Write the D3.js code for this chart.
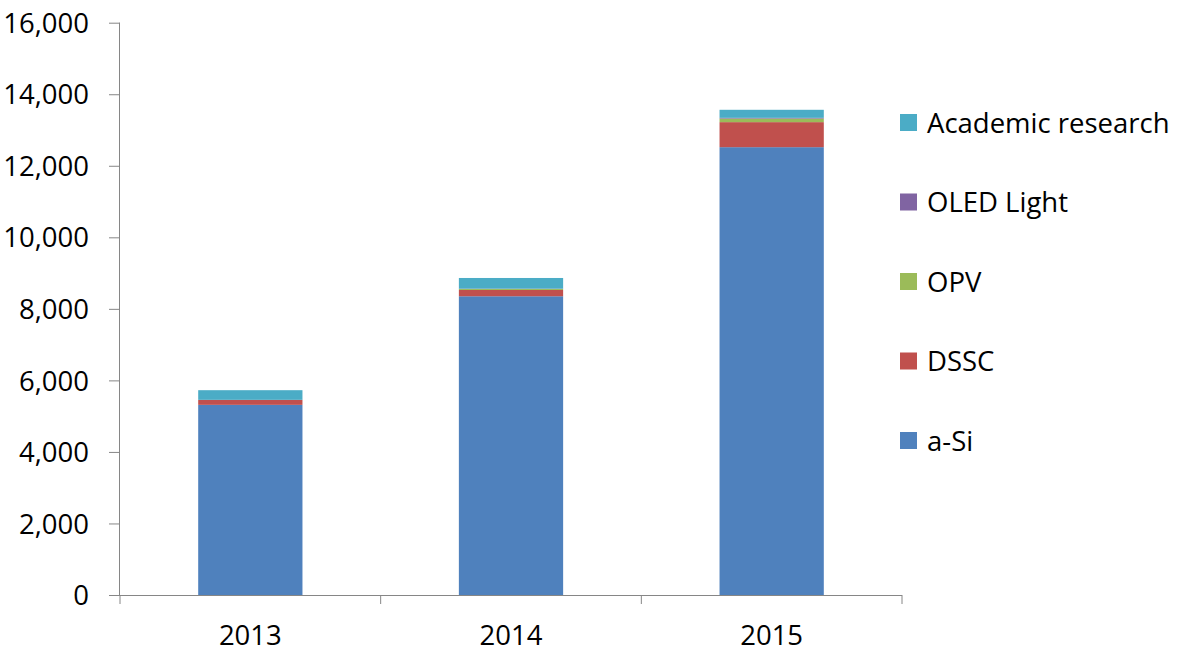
<!DOCTYPE html>
<html><head><meta charset="utf-8">
<script src="https://cdn.jsdelivr.net/npm/d3@7"></script>
<style>body{margin:0;background:#fff;} text{font-family:"Open Sans",sans-serif;fill:#000;}</style>
</head><body><svg id="c" width="1177" height="658"></svg>
<script>
const categories = ["2013","2014","2015"];
const seriesNames = ["a-Si","DSSC","OPV","OLED Light","Academic research"];
const aSi = [5316, 8352, 12520];
const dssc = [140, 176, 700];
const opv = [0, 28, 100];
const oled = [0, 8, 20];
const academic = [270, 299, 225];
const colors = ["#4F81BD","#C0504D","#9BBB59","#8064A2","#4BACC6"];
const yTicks = [0,2000,4000,6000,8000,10000,12000,14000,16000];

const svg = d3.select("#c");
const mLeft = 120, mRight = 902, mTop = 22.7, mBottom = 595;
const fs = "27.5px";
const x = d3.scaleBand().domain(categories).range([mLeft, mRight]).padding(0);
const y = d3.scaleLinear().domain([0,16000]).range([mBottom, mTop]);

const rows = categories.map((c,i)=>({cat:c, "a-Si":aSi[i], "DSSC":dssc[i], "OPV":opv[i], "OLED Light":oled[i], "Academic research":academic[i]}));
const stack = d3.stack().keys(seriesNames)(rows);

const bw = x.bandwidth()*0.4;
svg.append("g").selectAll("g").data(stack).join("g")
  .attr("fill",(d,i)=>colors[i])
  .selectAll("rect").data(d=>d).join("rect")
  .attr("x",d=>x(d.data.cat)+x.bandwidth()/2-bw/2)
  .attr("width",bw)
  .attr("y",d=>y(d[1]))
  .attr("height",d=>y(d[0])-y(d[1]));

// y axis
const ya = svg.append("g").attr("transform",`translate(${mLeft},0)`)
  .call(d3.axisLeft(y).tickValues(yTicks).tickSize(11).tickPadding(20).tickFormat(d3.format(",")));
ya.select(".domain").attr("stroke","#868686").attr("d",`M-0.5,${mBottom}V${mTop}`);
ya.selectAll(".tick line").attr("stroke","#868686");
ya.selectAll(".tick text").style("font-size",fs).attr("fill","#000").attr("dy","0.35em").attr("x",-31);

// x axis
const xa = svg.append("g").attr("transform",`translate(0,${mBottom})`);
xa.append("line").attr("x1",mLeft-11).attr("x2",mRight).attr("y1",0.5).attr("y2",0.5).attr("stroke","#868686");
const bounds = categories.map(c=>x(c)).concat([mRight]);
xa.selectAll("line.tk").data(bounds).join("line").attr("class","tk")
  .attr("x1",d=>d).attr("x2",d=>d).attr("y1",0).attr("y2",9).attr("stroke","#868686");
xa.selectAll("text").data(categories).join("text")
  .attr("x",d=>x(d)+x.bandwidth()/2).attr("y",50).attr("text-anchor","middle")
  .style("font-size",fs).text(d=>d);

// legend
const legendOrder = seriesNames.map((n,i)=>({n,c:colors[i]})).reverse();
const lg = svg.append("g").selectAll("g").data(legendOrder).join("g")
  .attr("transform",(d,i)=>`translate(900,${123+i*79.5})`);
lg.append("rect").attr("x",0).attr("y",-9).attr("width",17).attr("height",17).attr("fill",d=>d.c);
lg.append("text").attr("x",27).attr("y",0).attr("dy","0.35em").style("font-size",fs).text(d=>d.n);
</script></body></html>
